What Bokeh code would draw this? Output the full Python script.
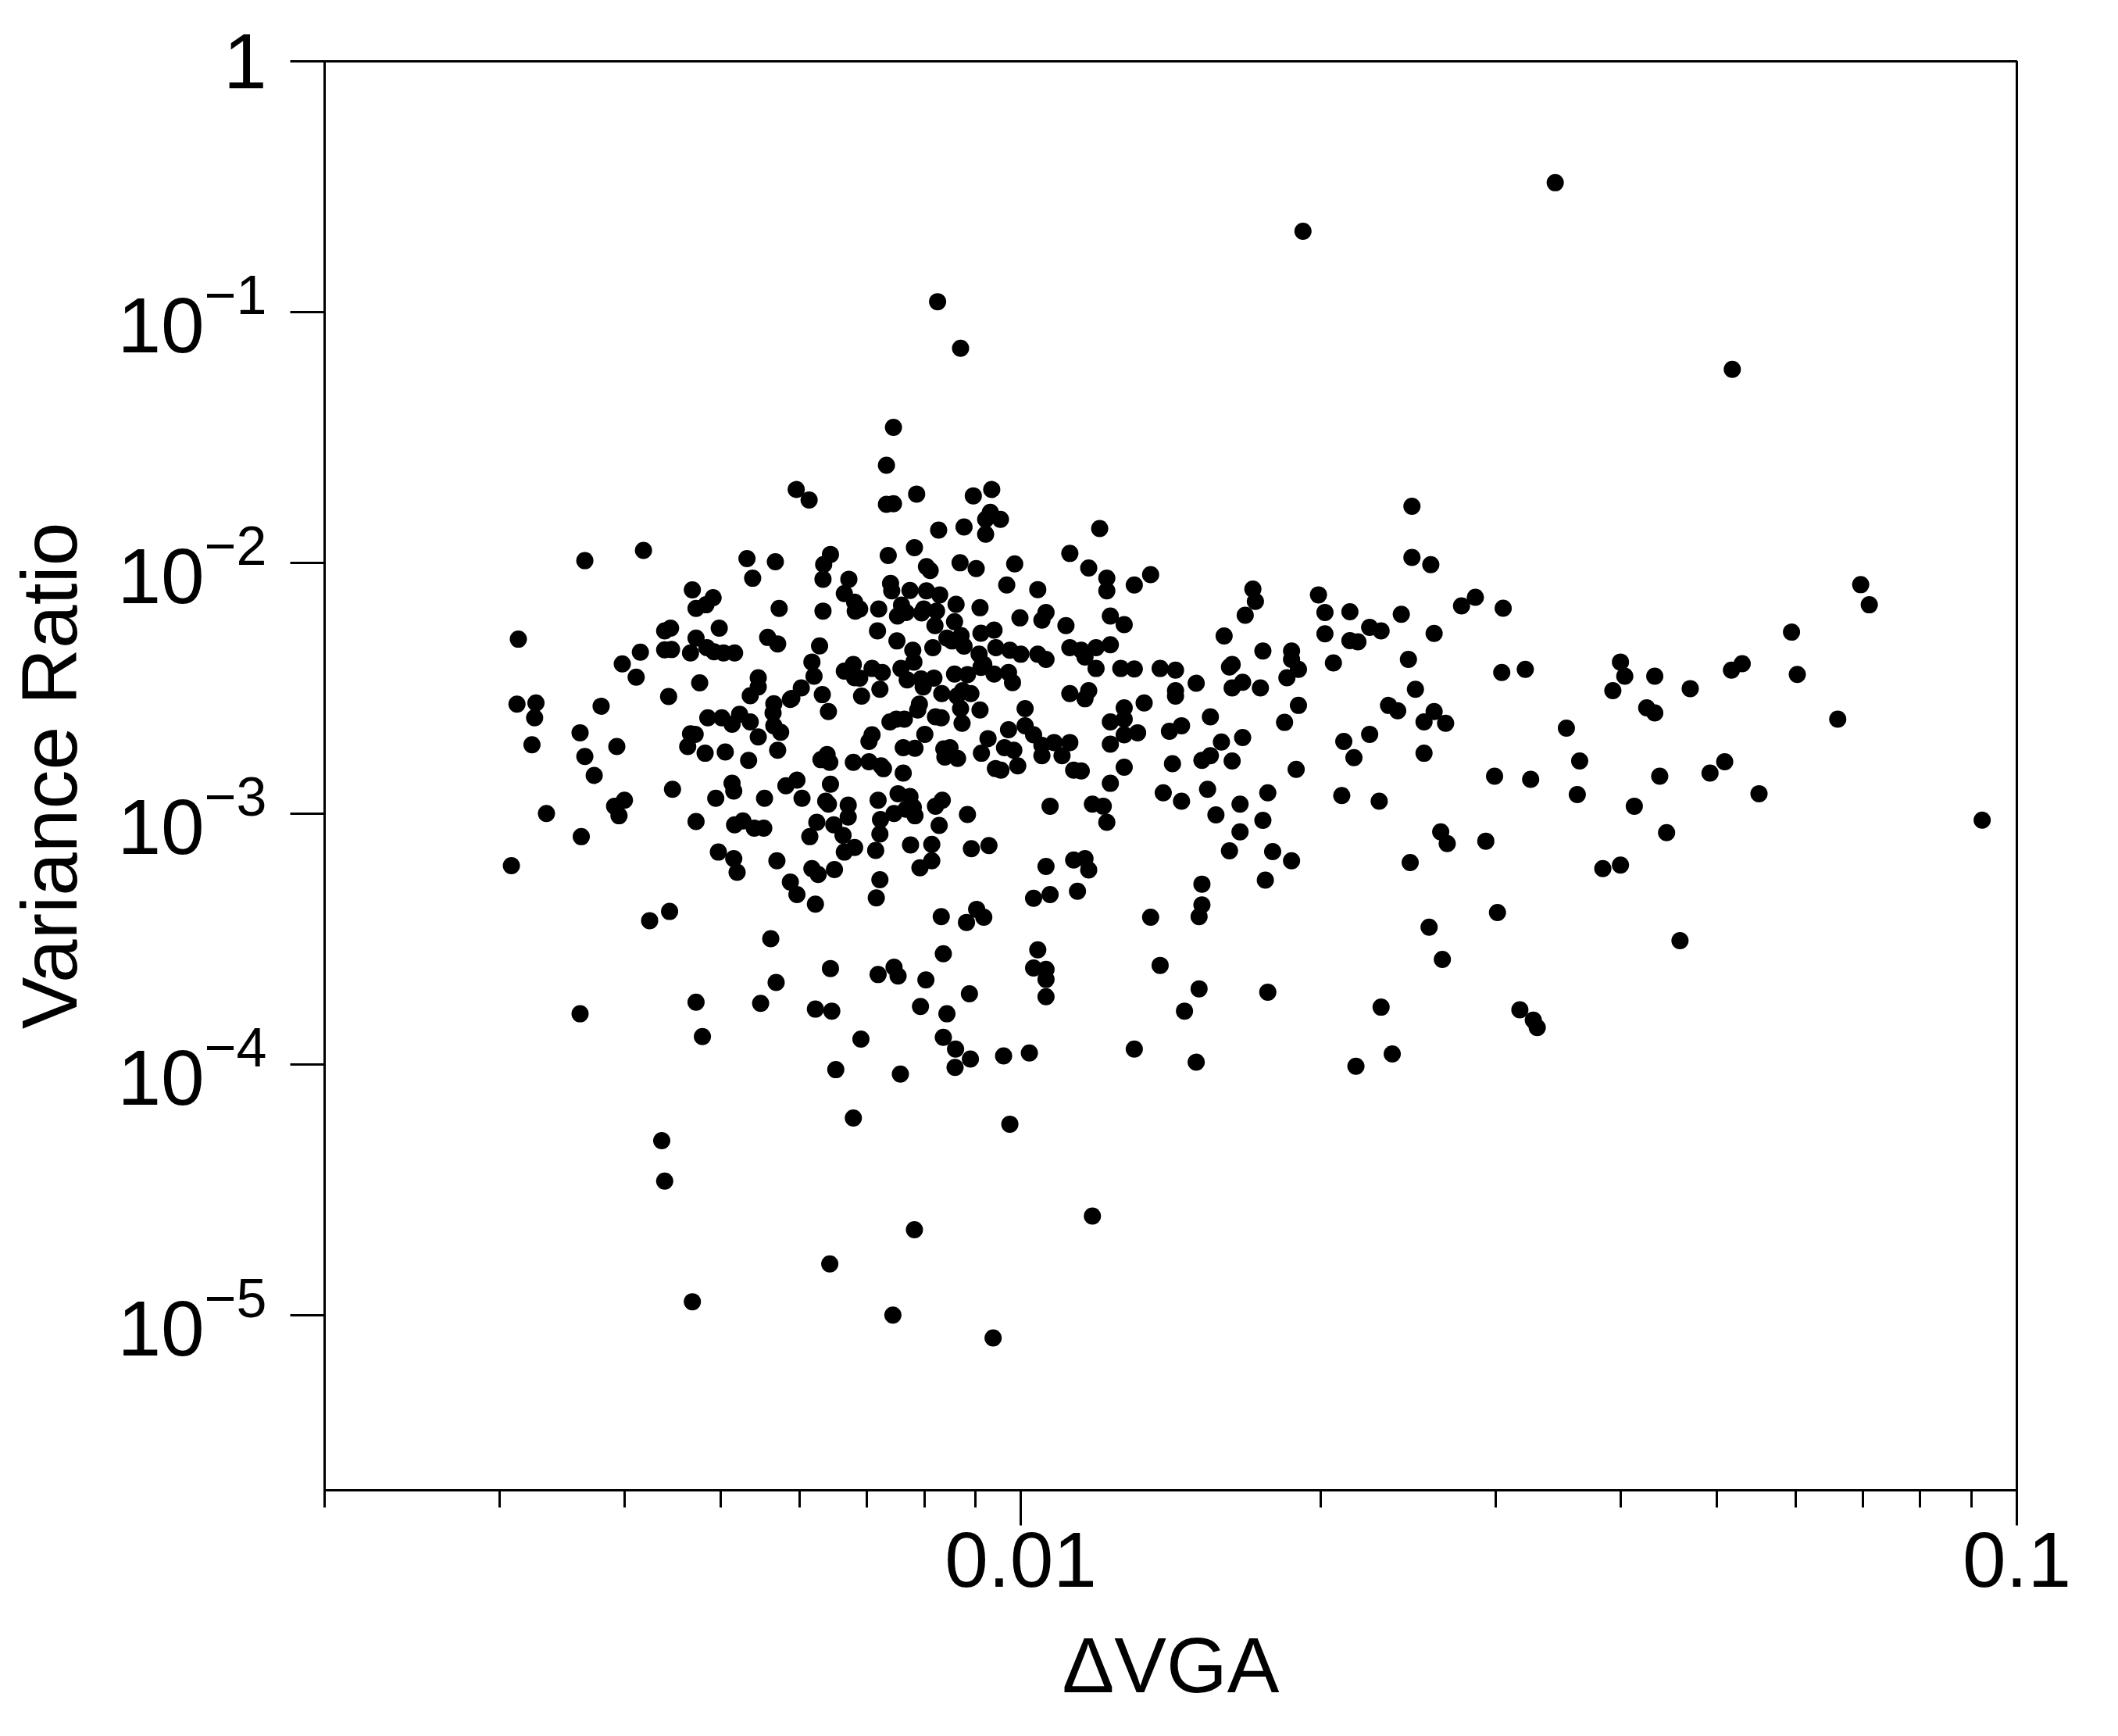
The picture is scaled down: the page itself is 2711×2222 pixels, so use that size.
from bokeh.plotting import figure
from bokeh.models import Range1d, FixedTicker, LogTickFormatter, CustomJSTickFormatter, ColumnDataSource
from bokeh.embed import file_html
from bokeh.resources import INLINE

FONT = "Liberation Sans"

# ---- axis ticks ----
x_major_ticks = [0.01, 0.1]
x_minor_ticks = [0.002, 0.003, 0.004, 0.005, 0.006, 0.007, 0.008, 0.009,
                 0.02, 0.03, 0.04, 0.05, 0.06, 0.07, 0.08, 0.09]
y_major_ticks = [1e-5, 1e-4, 1e-3, 1e-2, 1e-1, 1.0]

# ---- data, grouped by region ----
vga_a = [0.0344, 0.0192, 0.00825, 0.00870, 0.0518, 0.00745, 0.00733, 0.00595, 0.00613, 0.00733,
         0.00745, 0.00786, 0.00896, 0.00935, 0.0247, 0.00932, 0.00922, 0.00954, 0.00922, 0.0120,
         0.00827, 0.00877, 0.00736, 0.00782, 0.0112, 0.0117, 0.0122, 0.0122, 0.0130, 0.0135,
         0.00804, 0.00811, 0.00869, 0.00902, 0.00986, 0.00968, 0.0104, 0.00740, 0.00742, 0.00774,
         0.00804, 0.00829, 0.00861, 0.00910, 0.00720, 0.00689, 0.00759, 0.00752, 0.00767, 0.00799,
         0.00795, 0.00823, 0.00820, 0.00858, 0.00998, 0.0106, 0.0105, 0.0111, 0.0123, 0.0127,
         0.00718, 0.00751, 0.00779, 0.00781, 0.00758, 0.00769, 0.00794, 0.00818, 0.00798, 0.00722,
         0.00709, 0.00726, 0.00689, 0.00692, 0.00816, 0.00843, 0.00871, 0.00877, 0.00853, 0.00912,
         0.00940, 0.00908, 0.00944, 0.00975, 0.0100, 0.0104, 0.0106, 0.0112, 0.0115, 0.0119,
         0.0123, 0.0116, 0.0119, 0.0126, 0.0130, 0.0138, 0.0143, 0.0143, 0.0143, 0.00858,
         0.00884, 0.00912, 0.00940, 0.00972, 0.00981, 0.00918, 0.00833, 0.00863, 0.00891, 0.00874,
         0.0112, 0.0117, 0.0116, 0.0133, 0.00791]
ratio_a = [0.328, 0.210, 0.110, 0.0717, 0.0591, 0.0347, 0.0245, 0.0196, 0.0178, 0.0171,
           0.0172, 0.0188, 0.0185, 0.0196, 0.0168, 0.0159, 0.0149, 0.0149, 0.0130, 0.0137,
           0.0135, 0.0139, 0.0107, 0.0115, 0.0109, 0.00954, 0.00869, 0.00773, 0.00816, 0.00897,
           0.00966, 0.00931, 0.0100, 0.00948, 0.00990, 0.00816, 0.00782, 0.00827, 0.00773, 0.00776,
           0.00773, 0.00745, 0.00683, 0.00662, 0.00654, 0.00654, 0.00678, 0.00613, 0.00634, 0.00654,
           0.00631, 0.00642, 0.00562, 0.00582, 0.00603, 0.00634, 0.00591, 0.00562, 0.00613, 0.00567,
           0.00535, 0.00488, 0.00448, 0.00402, 0.00379, 0.00341, 0.00344, 0.00347, 0.00320, 0.00313,
           0.00379, 0.00365, 0.00347, 0.00294, 0.00459, 0.00501, 0.00513, 0.00465, 0.00488, 0.00524,
           0.00539, 0.00432, 0.00459, 0.00448, 0.00432, 0.00432, 0.00412, 0.00459, 0.00448, 0.00459,
           0.00471, 0.00421, 0.00379, 0.00379, 0.00377, 0.00379, 0.00373, 0.00309, 0.00294, 0.00360,
           0.00358, 0.00383, 0.00360, 0.00365, 0.00333, 0.00393, 0.00301, 0.00294, 0.00301, 0.00309,
           0.00301, 0.00309, 0.00287, 0.00276, 0.00273]

vga_b = [0.00365, 0.00418, 0.00531, 0.00567, 0.00538, 0.00644, 0.00634, 0.00633, 0.00672, 0.00665,
         0.00681, 0.00682, 0.00633, 0.00468, 0.00491, 0.00483, 0.00472, 0.00572, 0.00313, 0.00439,
         0.00445, 0.00498, 0.00472, 0.00484, 0.00492, 0.00503, 0.00516, 0.00439, 0.00446, 0.00466,
         0.00557, 0.00570, 0.00628, 0.00415, 0.00398, 0.00411, 0.00617, 0.00620, 0.00602, 0.00589,
         0.00632, 0.00545, 0.00545, 0.00535, 0.00665, 0.00679, 0.00681, 0.00476, 0.00443, 0.00312,
         0.00326, 0.00379, 0.00587, 0.00565]
ratio_b = [0.0102, 0.0112, 0.0104, 0.0101, 0.00868, 0.0108, 0.00985, 0.00860, 0.00860, 0.00754,
           0.00697, 0.00642, 0.00642, 0.00780, 0.00726, 0.00680, 0.00658, 0.00658, 0.00496, 0.00535,
           0.00549, 0.00549, 0.00501, 0.00459, 0.00442, 0.00437, 0.00437, 0.00450, 0.00451, 0.00437,
           0.00504, 0.00475, 0.00466, 0.00440, 0.00395, 0.00350, 0.00402, 0.00353, 0.00317, 0.00288,
           0.00298, 0.00348, 0.00320, 0.00295, 0.00370, 0.00393, 0.00348, 0.00332, 0.00293, 0.00273,
           0.00276, 0.00268, 0.00285, 0.00274]

vga_c = [0.00325, 0.00323, 0.00361, 0.00365, 0.00373, 0.00393, 0.00447, 0.00400, 0.00391, 0.00395,
         0.00334, 0.00362, 0.00308, 0.00424, 0.00444, 0.00472, 0.00361, 0.00485, 0.00501, 0.00513,
         0.00522, 0.00535, 0.00545, 0.00564, 0.00565, 0.00574, 0.00466, 0.00463, 0.00471, 0.00482,
         0.00505, 0.00533, 0.00570, 0.00641, 0.00639, 0.00643, 0.00630, 0.00679, 0.00513, 0.00515,
         0.00494, 0.00553, 0.00581, 0.00596, 0.00603, 0.00644, 0.00637, 0.00641, 0.00671, 0.00671,
         0.00472, 0.00516, 0.00526, 0.00540, 0.00552, 0.00624, 0.00614, 0.00649, 0.00663, 0.00681,
         0.00665, 0.00497, 0.00515, 0.00519, 0.00569, 0.00617, 0.00626, 0.00650, 0.00587, 0.00596,
         0.00622, 0.00561, 0.00644, 0.00568, 0.00548, 0.00622, 0.00646]
ratio_c = [0.00241, 0.00188, 0.00210, 0.00169, 0.00142, 0.00185, 0.00125, 0.00113, 0.00107, 0.000980,
           0.00100, 0.000809, 0.000620, 0.000374, 0.000407, 0.000177, 0.000159, 0.00241, 0.00241, 0.00227,
           0.00249, 0.00232, 0.00202, 0.00252, 0.00224, 0.00211, 0.00208, 0.00185, 0.00207, 0.00174,
           0.00176, 0.00163, 0.00179, 0.00255, 0.00172, 0.00160, 0.00164, 0.00160, 0.00132, 0.00123,
           0.00115, 0.00115, 0.00129, 0.00136, 0.00115, 0.00131, 0.00112, 0.00109, 0.00108, 0.000968,
           0.000930, 0.000901, 0.000934, 0.000874, 0.000874, 0.000923, 0.000809, 0.000901, 0.000819, 0.000732,
           0.000702, 0.000702, 0.000661, 0.000583, 0.000648, 0.000603, 0.000572, 0.000598, 0.000533, 0.000475,
           0.000435, 0.000317, 0.000241, 0.000212, 0.000175, 0.000166, 0.000163]

vga_d = [0.00788, 0.00821, 0.00832, 0.00870, 0.00873, 0.00910, 0.0101, 0.0127, 0.00750, 0.00764,
         0.00739, 0.0141, 0.0145, 0.0101, 0.0103, 0.0105, 0.0105, 0.0108, 0.0112, 0.0110,
         0.0113, 0.0115, 0.00972, 0.00927, 0.00913, 0.00963, 0.00984, 0.00943, 0.00955, 0.00993,
         0.0123, 0.0127, 0.0131, 0.0127, 0.0123, 0.0127, 0.0123, 0.0142, 0.0139, 0.0145,
         0.00709, 0.00704, 0.00762, 0.00783, 0.00801, 0.00704, 0.00724, 0.00728, 0.00762, 0.00837,
         0.00849, 0.00864, 0.00839, 0.00719, 0.00753, 0.00774, 0.00746, 0.00780, 0.00783, 0.00767,
         0.00723, 0.00722, 0.00821, 0.00834, 0.00828, 0.00884, 0.00715, 0.00775, 0.00814, 0.00814,
         0.00792, 0.00892, 0.00929, 0.0107, 0.0118, 0.0121, 0.0122, 0.0106, 0.0113, 0.0116,
         0.0117, 0.0103, 0.0107, 0.0114, 0.00722, 0.00716, 0.00832, 0.00903, 0.00918, 0.00882,
         0.0135, 0.0104, 0.0138, 0.00836, 0.0103, 0.0106, 0.0106, 0.00746, 0.00753, 0.00719,
         0.00803, 0.00888, 0.0106, 0.00793, 0.00843, 0.0146]
ratio_d = [0.00259, 0.00243, 0.00241, 0.00262, 0.00229, 0.00259, 0.00262, 0.00264, 0.00238, 0.00238,
           0.00232, 0.00213, 0.00224, 0.00224, 0.00206, 0.00187, 0.00170, 0.00192, 0.00192, 0.00170,
           0.00149, 0.00148, 0.00216, 0.00199, 0.00174, 0.00183, 0.00179, 0.00151, 0.00149, 0.00155,
           0.00232, 0.00238, 0.00210, 0.00206, 0.00189, 0.00153, 0.00132, 0.00158, 0.00121, 0.00112,
           0.00206, 0.00194, 0.00183, 0.00182, 0.00207, 0.00161, 0.00155, 0.00151, 0.00145, 0.00181,
           0.00183, 0.00166, 0.00168, 0.00113, 0.00120, 0.00117, 0.00100, 0.00106, 0.000980, 0.00104,
           0.000946, 0.000829, 0.00107, 0.00113, 0.000897, 0.000991, 0.000713, 0.000750, 0.000754, 0.000648,
           0.000608, 0.000724, 0.000745, 0.00107, 0.00109, 0.00107, 0.000923, 0.000615, 0.000653, 0.000661,
           0.000596, 0.000459, 0.000475, 0.000490, 0.000545, 0.000461, 0.000388, 0.000415, 0.000386, 0.000368,
           0.000386, 0.000286, 0.000248, 0.000276, 0.000242, 0.000239, 0.000218, 0.000244, 0.000225, 0.000228,
           0.000217, 0.000191, 0.000186, 0.000170, 0.000159, 0.000163]

vga_e = [0.00479, 0.00691, 0.00836, 0.00860, 0.00890, 0.00859, 0.00961, 0.0102, 0.0130, 0.00652,
         0.00757, 0.00679, 0.00975, 0.00436, 0.00439, 0.0118, 0.00782, 0.00643, 0.00468, 0.00744,
         0.00938]
ratio_e = [0.000129, 0.000126, 0.000128, 0.000115, 0.000105, 0.0000972, 0.000108, 0.000111, 0.000115, 0.0000952,
           0.0000914, 0.0000611, 0.0000577, 0.0000496, 0.0000342, 0.0000248, 0.0000219, 0.0000160, 0.0000113, 0.0000100,
           0.0000081]

vga_f = [0.0247, 0.0258, 0.0171, 0.0172, 0.0168, 0.0199, 0.0202, 0.0202, 0.0214, 0.0224,
         0.0230, 0.0214, 0.0218, 0.0241, 0.0260, 0.0277, 0.0286, 0.0305, 0.0160, 0.0175,
         0.0187, 0.0187, 0.0190, 0.0185, 0.0206, 0.0245, 0.0163, 0.0162, 0.0150, 0.0163,
         0.0167, 0.0174, 0.0249, 0.0304, 0.0321, 0.0190, 0.0184, 0.0155, 0.0234, 0.0239,
         0.0260, 0.0254, 0.0267, 0.0224, 0.0211, 0.0216, 0.0254, 0.0353, 0.0364, 0.0299,
         0.0325, 0.0159, 0.0167, 0.0152, 0.0155, 0.0163, 0.0189]
ratio_f = [0.0105, 0.00983, 0.00785, 0.00702, 0.00618, 0.00745, 0.00634, 0.00521, 0.00638, 0.00553,
           0.00535, 0.00489, 0.00484, 0.00623, 0.00523, 0.00673, 0.00729, 0.00659, 0.00511, 0.00445,
           0.00445, 0.00412, 0.00376, 0.00348, 0.00399, 0.00412, 0.00393, 0.00384, 0.00331, 0.00317,
           0.00334, 0.00317, 0.00313, 0.00365, 0.00376, 0.00270, 0.00231, 0.00243, 0.00270, 0.00257,
           0.00255, 0.00232, 0.00229, 0.00207, 0.00194, 0.00167, 0.00174, 0.00219, 0.00162, 0.00141,
           0.00137, 0.00193, 0.00201, 0.00163, 0.00170, 0.00162, 0.00150]

vga_g = [0.0697, 0.0711, 0.0594, 0.0400, 0.0404, 0.0393, 0.0433, 0.0470, 0.0517, 0.0530,
         0.0602, 0.0425, 0.0433, 0.0661, 0.0509, 0.0492, 0.0438]
ratio_g = [0.00818, 0.00680, 0.00529, 0.00402, 0.00353, 0.00309, 0.00353, 0.00315, 0.00373, 0.00396,
           0.00359, 0.00264, 0.00252, 0.00238, 0.00161, 0.00145, 0.00141]

vga_h = [0.0154, 0.0166, 0.0177, 0.0157, 0.0175, 0.0166, 0.0162, 0.0179, 0.0187, 0.0210,
         0.0229, 0.0264, 0.0268, 0.0293, 0.0246, 0.0362, 0.0413, 0.0445, 0.0551, 0.0923,
         0.0384, 0.0400, 0.0152, 0.0176, 0.0152, 0.0151, 0.0301, 0.0257, 0.0459, 0.0265,
         0.0151, 0.0177, 0.0230, 0.0317, 0.0327, 0.0330, 0.0150, 0.0217, 0.0236]
ratio_h = [0.00125, 0.00109, 0.00121, 0.000988, 0.000939, 0.000845, 0.000710, 0.000705, 0.000648, 0.00118,
           0.00112, 0.000845, 0.000759, 0.000776, 0.000638, 0.00119, 0.00107, 0.000839, 0.00120, 0.000941,
           0.000603, 0.000623, 0.000523, 0.000543, 0.000432, 0.000388, 0.000403, 0.000352, 0.000311, 0.000262,
           0.000200, 0.000194, 0.000169, 0.000165, 0.000150, 0.000140, 0.000102, 0.0000982, 0.000110]

delta_vga = vga_a + vga_b + vga_c + vga_d + vga_e + vga_f + vga_g + vga_h
variance_ratio = ratio_a + ratio_b + ratio_c + ratio_d + ratio_e + ratio_f + ratio_g + ratio_h
assert len(delta_vga) == len(variance_ratio)

source = ColumnDataSource(data=dict(x=delta_vga, y=variance_ratio))

p = figure(width=2681, height=2207,
           x_axis_type="log", y_axis_type="log",
           x_range=Range1d(0.002, 0.1), y_range=Range1d(2e-6, 1.0),
           output_backend="svg", toolbar_location=None,
           min_border_left=415, min_border_right=100,
           min_border_top=78, min_border_bottom=300)

p.grid.visible = False
p.background_fill_color = "white"
p.border_fill_color = "white"
p.outline_line_color = "black"
p.outline_line_width = 3
p.outline_line_alpha = 1.0

p.scatter(x="x", y="y", source=source, size=22, marker="circle",
          fill_color="black", line_color=None)

xa = p.xaxis[0]
ya = p.yaxis[0]

xa.ticker = FixedTicker(ticks=x_major_ticks, minor_ticks=x_minor_ticks)
xa.formatter = CustomJSTickFormatter(code="return String(Number(tick.toPrecision(3)));")
ya.ticker = FixedTicker(ticks=y_major_ticks, minor_ticks=[])
ya.formatter = LogTickFormatter(min_exponent=1)

for ax in (xa, ya):
    ax.axis_line_width = 3
    ax.axis_line_color = "black"
    ax.major_tick_line_width = 3
    ax.major_tick_line_color = "black"
    ax.minor_tick_line_width = 3
    ax.minor_tick_line_color = "black"
    ax.major_tick_in = 0
    ax.minor_tick_in = 0
    ax.major_label_text_font = FONT
    ax.major_label_text_font_size = "100px"
    ax.major_label_text_color = "black"
    ax.axis_label_text_font = FONT
    ax.axis_label_text_font_size = "100px"
    ax.axis_label_text_font_style = "normal"
    ax.axis_label_text_color = "black"

xa.major_tick_out = 45
xa.minor_tick_out = 22
xa.major_label_standoff = 9
xa.axis_label = "ΔVGA"
xa.axis_label_standoff = 41

ya.major_tick_out = 44
ya.minor_tick_line_color = None
ya.major_label_standoff = 30
ya.axis_label = "Variance Ratio"
ya.axis_label_standoff = 28

open("out.html", "w").write(file_html(p, INLINE))
